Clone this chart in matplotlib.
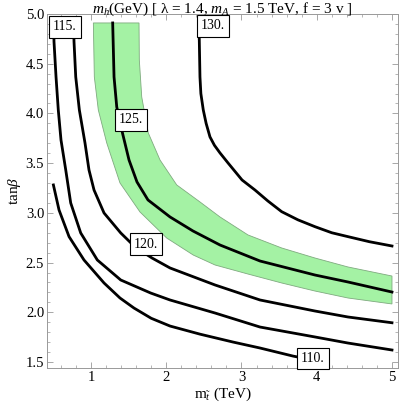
import numpy as np
import matplotlib
matplotlib.use("Agg")
import matplotlib.pyplot as plt
from matplotlib.ticker import MultipleLocator, FormatStrFormatter

plt.rcParams['font.family'] = ['Liberation Serif', 'DejaVu Serif']
plt.rcParams['mathtext.fontset'] = 'custom'
plt.rcParams['mathtext.rm'] = 'Liberation Serif'
plt.rcParams['mathtext.it'] = 'Liberation Serif:italic'

# contour lines (m_stop in TeV, tan beta)
x110 = [0.5, 0.575, 0.708, 0.907, 1.173, 1.385, 1.571, 1.8, 2.050, 2.45, 2.887, 3.246, 3.684, 3.85]
y110 = [3.281, 3.029, 2.761, 2.526, 2.295, 2.144, 2.043, 1.94, 1.862, 1.78, 1.701, 1.641, 1.560, 1.535]

x115 = [0.503, 0.508, 0.535, 0.565, 0.601, 0.664, 0.730, 0.863, 1.084, 1.395, 1.793, 2.050, 2.648, 3.246, 3.977, 4.415, 5.0]
y115 = [4.91, 4.722, 4.367, 4.035, 3.733, 3.432, 3.100, 2.798, 2.526, 2.325, 2.194, 2.124, 1.993, 1.852, 1.752, 1.691, 1.621]

x120 = [0.767, 0.774, 0.797, 0.845, 0.920, 0.973, 1.040, 1.173, 1.395, 1.585, 1.811, 2.050, 2.648, 3.246, 3.977, 4.415, 5.0]
y120 = [4.91, 4.722, 4.367, 4.035, 3.703, 3.432, 3.230, 2.999, 2.798, 2.657, 2.546, 2.446, 2.275, 2.124, 2.013, 1.953, 1.895]

x125 = [1.288, 1.306, 1.342, 1.421, 1.505, 1.611, 1.757, 2.050, 2.355, 2.714, 3.246, 3.977, 4.415, 5.0]
y125 = [4.91, 4.367, 4.065, 3.794, 3.532, 3.311, 3.130, 2.959, 2.818, 2.677, 2.516, 2.375, 2.305, 2.204]

x130 = [2.435, 2.439, 2.448, 2.46, 2.492, 2.53, 2.581, 2.64, 2.714, 2.821, 3.007, 3.179, 3.35, 3.534, 3.75, 3.977, 4.2, 4.415, 4.7, 5.0]
y130 = [4.91, 4.739, 4.367, 4.2, 4.035, 3.9, 3.764, 3.68, 3.603, 3.502, 3.331, 3.230, 3.12, 3.012, 2.93, 2.861, 2.80, 2.761, 2.71, 2.667]

# green band (m_h within uncertainty of 125 GeV)
band_hi_x = [1.638, 1.642, 1.674, 1.761, 1.917, 2.139, 2.448, 2.714, 3.086, 3.534, 3.977, 4.415, 5.0]
band_hi_y = [4.91, 4.538, 4.166, 3.804, 3.532, 3.281, 3.110, 2.959, 2.778, 2.647, 2.546, 2.456, 2.365]
band_lo_x = [1.031, 1.044, 1.097, 1.209, 1.385, 1.651, 2.006, 2.359, 2.648, 3.086, 3.534, 3.977, 4.415, 5.0]
band_lo_y = [4.91, 4.367, 4.035, 3.703, 3.301, 3.009, 2.747, 2.576, 2.476, 2.385, 2.295, 2.214, 2.144, 2.084]

label_text = ['110.', '115.', '120.', '125.', '130.']
label_x = [3.95, 0.654, 1.731, 1.532, 2.621]
label_y = [1.535, 4.870, 2.687, 3.935, 4.880]

fig = plt.figure(figsize=(3.99, 4.13), dpi=100)
ax = fig.add_axes([47 / 399, 45 / 413, 351 / 399, 354 / 413])

ax.fill(band_lo_x + band_hi_x[::-1], band_lo_y + band_hi_y[::-1],
        facecolor='#a4f2a4', edgecolor='#7faa7f', linewidth=0.6, zorder=1)

for xs, ys in [(x110, y110), (x115, y115), (x120, y120), (x125, y125), (x130, y130)]:
    ax.plot(xs, ys, color='black', linewidth=2.0, solid_joinstyle='round', zorder=2)

for t, lx, ly in zip(label_text, label_x, label_y):
    ax.text(lx, ly, t, ha='center', va='center', fontsize=10, zorder=3,
            bbox=dict(boxstyle='square,pad=0.3', facecolor='white', edgecolor='black', linewidth=0.8))

ax.set_xlim(0.415, 5.08)
ax.set_ylim(1.44, 5.0)
ax.xaxis.set_major_locator(MultipleLocator(1))
ax.xaxis.set_minor_locator(MultipleLocator(0.2))
ax.yaxis.set_major_locator(MultipleLocator(0.5))
ax.yaxis.set_minor_locator(MultipleLocator(0.1))
ax.yaxis.set_major_formatter(FormatStrFormatter('%.1f'))
ax.tick_params(which='both', direction='in', top=True, right=True, color='#999999',
               labelsize=10.5, pad=2)
ax.tick_params(which='major', length=4, width=0.6)
ax.tick_params(which='minor', length=2, width=0.5)
for s in ax.spines.values():
    s.set_color('#999999')
    s.set_linewidth(0.7)

fig.text(222.5 / 399, 1 - 12.5 / 413, r'$m_h$(GeV) [ λ = 1.4, $m_A$ = 1.5 TeV, f = 3 v ]',
         fontsize=11, ha='center', va='baseline')
ax.set_xlabel(r'm$_{\tilde{t}}$ (TeV)', fontsize=11, labelpad=1)
ax.set_ylabel(r'tan$\beta$', fontsize=11, labelpad=2)

fig.savefig('out.png', dpi=100)
